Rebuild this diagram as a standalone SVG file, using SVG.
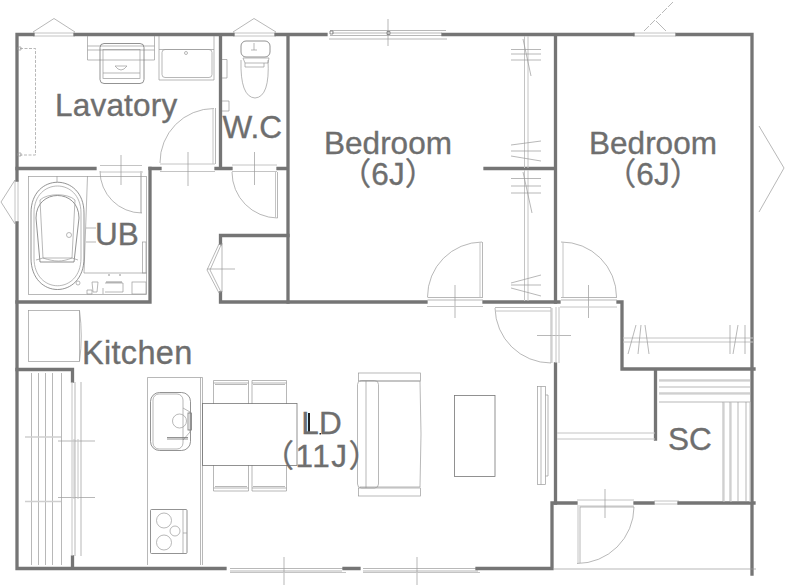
<svg xmlns="http://www.w3.org/2000/svg" width="786" height="586" viewBox="0 0 786 586">
<style>
.w{stroke:#757575;stroke-width:3.300;fill:none;stroke-linecap:square}
.t{stroke:#9a9a9a;stroke-width:.7;fill:none}
.d{stroke:#777;stroke-width:.8;fill:none}
.l{stroke:#c4c4c4;stroke-width:1;fill:none}
.b{stroke:#cfcfcf;stroke-width:2;fill:none}
text{font-family:"Liberation Sans","Noto Sans CJK JP",sans-serif;font-size:31.500px;fill:#6e6e6e;stroke:#6e6e6e;stroke-width:.35}
.m{text-anchor:middle}
</style>
<rect width="786" height="586" fill="#fff"/>
<g id="windows">
<path class="l" d="M33 33H75M33 36H75M233 33H276M233 36H276M633 33H676M633 36H676M654 501H679M654 504H679"/>
<path class="t" d="M33 32L54 18.500L75 32M233 32L254 18.500L276 32"/>
<path class="l" d="M15 180V223M18 180V223"/>
<path class="t" d="M15 180L1 202L15 224"/>
<path class="t" d="M759 126L784 168L759 212"/>
<path class="t" stroke-dasharray="7 1.500" d="M644 31L674 1"/>
<path class="t" d="M656 21L666 31"/>
<path class="t" d="M330 30.500H446M332 33H442M330 35.500H442M329 39H447M388 19V46"/>
<path class="d" d="M330 31h3v3h-3zM387 31.500h3v3h-3z"/>
<path class="t" d="M230 568.500H345M230 571H342M363 568.500H476M363 571H478M284 557V585M417 557V585"/>
<path class="l" d="M230 572.500H346M363 572.500H480"/>
</g>
<g id="walls">
<path class="w" d="M33 34.500H17V180M75 34.500H233M276 34.500H326M443 34.500H633M677 34.500H752V574"/>
<path class="w" d="M17 223V568.500H225M344 568.500H359M477 568.500H552V503H576M635 503H653M679 503H754"/>
<path class="w" d="M220.500 36V168M288 36V302M17 168.500H95M150 168.500H160M216 168.500H231M278 168.500H288"/>
<path class="w" d="M150 168.500V302H17M221 302H426M484 302H559M220.500 293V302M220.500 243V235.500H288"/>
<path class="w" d="M555.500 36V302M485 168.500H555M618 302H622V369M622 369H754M655.500 369V439"/>
<path class="w" d="M555.500 364V503M17 369.500H72.500V381M72.500 557V568"/>
</g>
<g id="lavatory-fixtures">
<path class="t" stroke-dasharray="3 1.500" d="M20 48.500H35.500V155H20"/>
<path class="t" d="M18 47h3v3h-3zM18 153h3v3h-3z"/>
<path class="t" d="M87.500 36V60H154.500V36M87.500 46H154.500M87.500 50H154.500"/>
<rect class="d" x="100" y="43.500" width="44" height="40" rx="4" fill="#fff"/>
<rect class="t" x="103" y="49.500" width="37" height="29" fill="#fff"/>
<path class="t" d="M103 73H140M115 66Q121 74 127 66Z"/>
<path class="t" d="M159 36V80H214V36M159 49.500H214"/>
<rect class="t" x="162" y="49.500" width="50" height="28" rx="3"/>
<circle class="t" cx="186" cy="53" r="1.500"/>
<path class="t" d="M222 59.500H227V78H222M222 101H229V111H222"/>
<rect class="d" x="241" y="41" width="29" height="16" rx="5"/>
<path class="t" d="M243 58H269L268 63H245ZM245 63V67H264V63"/>
<path class="t" d="M241 60Q240 97 255 98Q270 97 268 60"/>
<path class="t" d="M254 43V50M251 50H257"/>
</g>
<g id="lavatory-door">
<path class="t" d="M214 108.500A54 54 0 0 0 160 163"/>
<path class="l" d="M160 164H215M160 171.500H215M213 108V164"/>
<path class="t" d="M215.500 108V164M188 152V186"/>
</g>
<g id="ub-door">
<path class="l" d="M100 165.500H142M100 172H143"/>
<path class="b" d="M141 171V213"/>
<path class="t" d="M142 213A42 42 0 0 1 100 171M121 155V185"/>
</g>
<g id="wc-door">
<path class="l" d="M232 165H277M232 171.500H277"/>
<path class="t" d="M232 172A46 46 0 0 0 277.500 218V172M254.500 152V185"/>
<path class="l" d="M275.500 172V218"/>
</g>
<g id="bath">
<rect class="t" x="28.500" y="176.500" width="118" height="118"/>
<path class="t" d="M87.500 176L84 273M84 273H147M57 176V182M86 228H96M86 242H96"/>
<path class="d" d="M31 213C31 172 84 172 84 213V258C84 300 31 300 31 258Z"/>
<path class="t" d="M34 213C34 177 81 177 81 213V258C81 295 34 295 34 258Z"/>
<path class="d" d="M36 218C36 188 79 188 79 218L74 262H40Z"/>
<path class="t" d="M40 200C47 193 68 193 75 200L72 258H43ZM36 260L43 258C55 262 62 262 72 258L78 260"/>
<circle class="t" cx="69" cy="235" r="2.500"/>
<circle class="t" cx="78" cy="283" r="2"/>
<rect class="t" x="142.500" y="242" width="3.500" height="31"/>
<rect class="t" x="132" y="282" width="14" height="12"/>
<path class="t" d="M92 282H98L97 292H93ZM87 290H92V294H87ZM105 283H123V292H105M103 288V294"/>
<path class="d" d="M106 282H122M109 274V276M120 274V276"/>
</g>
<g id="closet-door">
<path class="t" d="M219 244L207 270L219 293M221 245L210 270L221 292M207 269H235M222 243V292M219 244L222 246M219 293L222 291"/>
</g>
<g id="bedroom-closets">
<path class="l" d="M524.500 36V168M528 36V168M524.500 170V301M528 170V301"/>
<path class="t" d="M511 49.500H541M511 54H541M511 60H541M523 39L531 76"/>
<path class="t" d="M511 145L541 141M511 151H541M511 156L541 161"/>
<path class="t" d="M511 178.500H541M511 186H541M511 193H541M523 172L532 213"/>
<path class="t" d="M511 283L541 275M511 285H541M511 288L541 296"/>
<path class="l" d="M623 338H753M623 342H753"/>
<path class="t" d="M636 325L628 354M641 325L638 354M645 325L649 354M730 325V354M738 325L733 354M745 325V354"/>
</g>
<g id="bedroom-doors">
<path class="t" d="M482 242A55 55 0 0 0 427.500 297M482.500 242V297M427.500 297.500H483M427.500 300H483M455 285V318"/>
<path class="l" d="M427 306.500H483M480 242V297"/>
<path class="t" d="M561 242A55 55 0 0 1 616.500 297M561 297.500H617M561 300H617M588.500 285V318"/>
<path class="l" d="M563 242V297M560 307H617"/>
</g>
<g id="ld-door">
<path class="t" d="M495 307.500H551V363A56 56 0 0 1 495 308M537 335.500H571"/>
<path class="l" d="M496 311H551M552 308V363"/>
<path class="l" d="M556 307V363M559 307V363"/>
</g>
<g id="hall">
<path class="l" d="M557 433H655M557 439H655"/>
</g>
<g id="storage-kitchen">
<rect class="t" x="28.500" y="310.500" width="51" height="51"/>
<path class="t" d="M79.500 310.500Q83 336 79.500 361.500"/>
<path class="t" d="M31.500 373V565M38.500 373V565M45.500 373V565M52.500 373V565M61.500 373V565"/>
<path class="b" d="M25 437H61M25 501.500H61" style="stroke-width:1.500"/>
<path class="t" d="M58 441H95M58 497.500H95M75 382V556M81 382V556"/>
<path class="l" d="M72 382V556M78 439V499M74 439V499"/>
</g>
<g id="kitchen-counter">
<path class="t" d="M147.500 565V377.500H202.500V565M200.500 377.500V565"/>
<rect class="d" x="150.500" y="392.500" width="40" height="58" rx="9"/>
<rect class="t" x="153" y="394" width="30" height="55" rx="6"/>
<circle class="t" cx="179.500" cy="421" r="7"/>
<path class="t" d="M183 408L190 412V432L183 440"/>
<path class="d" d="M167 437.500H188M167 439H188"/>
<rect class="d" x="188" y="413" width="3.500" height="17" fill="#bbb"/>
<rect class="d" x="150.500" y="509.500" width="36.500" height="44" rx="1"/>
<path class="t" d="M183 510V553M183 533H187"/>
<circle class="t" cx="164" cy="520.500" r="7.500"/>
<circle class="t" cx="175" cy="531" r="5"/>
<circle class="t" cx="164" cy="542.500" r="7.500"/>
</g>
<g id="dining">
<path class="t" d="M213.500 404V380.500H248.500V404M252 404V380.500H286.500V404M213.500 383H248.500M252 383H286.500M215 384.500H247M253 384.500H285"/>
<path class="t" d="M213.500 465V491H248.500V465M252 465V491H286.500V465M213.500 488H248.500M252 488H286.500M215 486.500H247M253 486.500H285"/>
<rect class="d" x="202.500" y="403.500" width="94.500" height="62" fill="#fff"/>
</g>
<g id="living">
<rect class="t" x="358.500" y="373" width="62" height="8"/>
<rect class="t" x="358.500" y="488" width="62" height="8"/>
<path class="t" d="M360 381H420Q422 434 420 487H360"/>
<rect class="t" x="357.500" y="380.500" width="21" height="107.500" rx="4"/>
<path class="t" d="M366 381V488"/>
<rect class="d" x="454.500" y="395.500" width="40.500" height="81"/>
<rect class="t" x="537.500" y="386.500" width="8" height="98"/>
<path class="t" d="M541 386.500V484.500M545.500 395H548V476H545.500"/>
</g>
<g id="sc-shelves">
<path class="t" d="M659 380H750M659 387H750M659 393H750M659 402H750"/>
<path class="l" d="M659 381H750M659 394H750"/>
<path class="t" d="M723 402V502M730 402V502M738 402V502M746 402V502"/>
<path class="l" d="M724 402V502M731 402V502M750 402V502"/>
</g>
<g id="entry">
<path class="l" d="M577 500H634M577 506H634"/>
<path class="l" d="M578 507V563"/>
<path class="t" d="M634 507A57 57 0 0 1 577 563.500M580 507V563M580 507H634M605 489V518M554 569H756"/>
</g>
<g id="labels">
<text x="55" y="116" style="letter-spacing:.2px">Lavatory</text>
<text x="222.500" y="138">W.C</text>
<text x="95" y="245">UB</text>
<text class="m" x="388" y="154">Bedroom</text>
<text class="m" x="388" y="185">（6J）</text>
<text class="m" x="653" y="154">Bedroom</text>
<text class="m" x="653" y="185">（6J）</text>
<text x="82" y="364" style="font-size:32.500px;letter-spacing:.3px">Kitchen</text>
<text x="668" y="450">SC</text>
<text class="m" x="321.500" y="434">LD</text>
<text class="m" x="322" y="467" style="letter-spacing:1.500px">（11J）</text>
<rect x="308" y="413" width="2" height="18.500" fill="#222"/>
<rect x="319.500" y="433" width="1.500" height="1.500" fill="#222"/>
</g>
</svg>
